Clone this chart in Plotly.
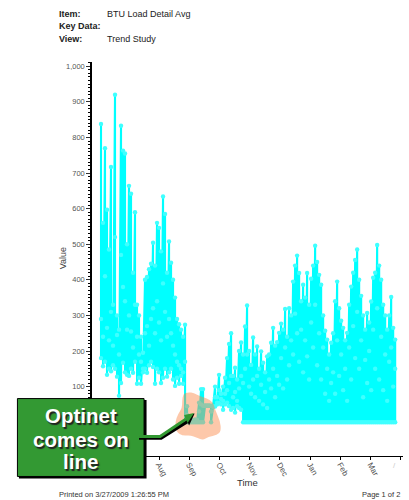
import plotly.graph_objects as go

# Tick labels of the time axis (June = 0, one unit per month)
month_ticks = [0, 1, 2, 3, 4, 5, 6, 7, 8, 9, 10]
month_labels = ["Jun", "Jul", "Aug", "Sep", "Oct", "Nov", "Dec", "Jan", "Feb", "Mar", ""]
value_ticks = [100, 200, 300, 400, 500, 600, 700, 800, 900, 1000]
value_labels = ["100", "200", "300", "400", "500", "600", "700", "800", "900", "1,000"]

# Upper, middle and lower reading for each sampling period
highs = [838, 560, 770, 597, 485, 717, 330, 920, 300, 260, 833, 763, 755, 500, 664, 642, 420, 590, 330, 300,
         240, 195, 400, 408, 430, 445, 504, 440, 560, 546, 480, 634, 585, 420, 508, 448, 400, 350, 290, 275,
         260, 240, 274, 45, 12, 10, 5, 8, 6, 55, 93, 93, 46, 46, 46, 46, 44, 100, 70, 133,
         80, 100, 125, 180, 220, 250, 130, 153, 120, 200, 224, 190, 269, 328, 200, 161, 238, 190, 213, 150,
         199, 167, 140, 185, 190, 223, 265, 215, 225, 251, 277, 260, 318, 240, 320, 300, 395, 440, 468, 419,
         340, 386, 350, 419, 330, 403, 440, 496, 450, 414, 386, 300, 257, 232, 190, 223, 250, 340, 395, 320,
         285, 265, 230, 251, 330, 381, 420, 456, 485, 400, 355, 300, 260, 307, 280, 339, 406, 420, 498, 440,
         400, 330, 300, 260, 300, 352, 265, 232]
mids = [290, 240, 410, 265, 230, 310, 215, 520, 245, 190, 470, 380, 340, 260, 300, 255, 210, 330, 240, 190,
        170, 150, 250, 270, 215, 290, 320, 250, 340, 280, 230, 390, 310, 240, 290, 250, 215, 190, 170, 160,
        150, 140, 170, 20, 5, 4, 2, 3, 2, 30, 50, 46, 46, 46, 46, 30, 44, 70, 55, 90,
        65, 60, 80, 90, 110, 130, 70, 85, 60, 95, 130, 110, 150, 190, 100, 80, 120, 70, 130, 60,
        105, 50, 85, 40, 120, 95, 150, 70, 130, 105, 180, 95, 210, 120, 160, 230, 190, 305, 250, 170,
        260, 140, 230, 185, 120, 280, 210, 330, 160, 250, 120, 210, 80, 150, 60, 110, 140, 80, 230, 130,
        190, 90, 150, 60, 210, 120, 270, 180, 310, 150, 230, 70, 175, 110, 200, 90, 260, 150, 320, 120,
        240, 90, 190, 60, 170, 210, 100, 150]
lows = [180, 157, 170, 133, 150, 143, 160, 150, 128, 74, 110, 167, 140, 133, 130, 150, 139, 170, 108, 125,
        108, 140, 150, 139, 160, 170, 155, 108, 150, 140, 110, 125, 150, 128, 140, 150, 120, 102, 125, 108,
        130, 108, 0, 0, 0, 0, 0, 0, 0, 0, 0, 0, 46, 46, 46, 0, 44, 44, 50, 54,
        50, 35, 50, 55, 45, 35, 40, 27, 45, 40, 35, 0, 0, 0, 0, 0, 0, 0, 0, 0,
        0, 0, 0, 0, 0, 0, 0, 0, 0, 0, 0, 0, 0, 0, 0, 0, 0, 0, 0, 0,
        0, 0, 0, 0, 0, 0, 0, 0, 0, 0, 0, 0, 0, 0, 0, 0, 0, 0, 0, 0,
        0, 0, 0, 0, 0, 0, 0, 0, 0, 0, 0, 0, 0, 0, 0, 0, 0, 0, 0, 0,
        0, 0, 0, 0, 0, 0, 0, 0]
FIRST_MONTH = 0.08
MONTHS_PER_SAMPLE = 0.0662

W, H = 409, 500
L, R, T, B = 92, 6.3, 61.5, 44
def fx(px):
    return (px - L) / (W - L - R)
def fy(py):
    return 1 - (py - T) / (H - T - B)
def pth(points, close=True):
    s = "M" + " L".join(f"{fx(a):.4f},{fy(b):.4f}" for a, b in points)
    return s + (" Z" if close else "")

xs, ys = [], []
for i, (h, m, l) in enumerate(zip(highs, mids, lows)):
    t = FIRST_MONTH + i * MONTHS_PER_SAMPLE
    xs += [t, t, t]
    ys += [h, m, l]

fig = go.Figure(go.Scatter(
    x=xs, y=ys, mode="lines+markers",
    line=dict(color="#00FFFF", width=2.1),
    marker=dict(color="#40FFFF", size=4.4, line=dict(width=0)),
    hoverinfo="skip", showlegend=False, cliponaxis=False,
))

# cloud highlight (one outline so that its transparency does not stack)
cloud = [(183, 394), (188, 392), (194, 393), (199, 396), (206, 398), (213, 402), (215, 410), (220, 421),
         (221, 431), (217, 435), (208, 437), (203, 440), (197, 438), (190, 435), (183, 436), (176, 432),
         (175, 422), (178, 414), (182, 408), (182, 401)]
def smooth(pts):
    n = len(pts)
    mid = lambda a, b: ((a[0] + b[0]) / 2, (a[1] + b[1]) / 2)
    s0 = mid(pts[-1], pts[0])
    s = f"M{fx(s0[0]):.4f},{fy(s0[1]):.4f}"
    for i in range(n):
        m = mid(pts[i], pts[(i + 1) % n])
        s += f" Q{fx(pts[i][0]):.4f},{fy(pts[i][1]):.4f} {fx(m[0]):.4f},{fy(m[1]):.4f}"
    return s + " Z"

shapes = [
    dict(type="path", xref="paper", yref="paper", path=smooth(cloud),
         fillcolor="rgba(250,130,61,0.44)", line=dict(width=0), layer="above"),
    dict(type="rect", xref="paper", yref="paper", x0=fx(19), x1=fx(146.5), y0=fy(478.5), y1=fy(400),
         fillcolor="#000000", line=dict(width=0), layer="above"),
    dict(type="rect", xref="paper", yref="paper", x0=fx(17.5), x1=fx(144), y0=fy(476.5), y1=fy(398.5),
         fillcolor="#339933", line=dict(color="#000000", width=1), layer="above"),
    dict(type="path", xref="paper", yref="paper", path=pth([(139, 438), (161, 438), (188, 421)], close=False),
         line=dict(color="#000000", width=3.5), layer="above"),
    dict(type="path", xref="paper", yref="paper", path=pth([(185, 416), (194.5, 413.5), (189, 425.5)]),
         fillcolor="#000000", line=dict(width=0), layer="above"),
    dict(type="path", xref="paper", yref="paper", path=pth([(139, 436.5), (160, 436.5), (186, 419)], close=False),
         line=dict(color="#339933", width=3), layer="above"),
    dict(type="path", xref="paper", yref="paper", path=pth([(184, 415), (194, 413), (187.5, 423)]),
         fillcolor="#339933", line=dict(width=0), layer="above"),
]

FONT = "Liberation Sans, Arial, sans-serif"
def txt(s, x, y, size=9, color="#222222", anchor="left", bold=False, angle=0, shadow=None):
    f = dict(family=FONT, size=size, color=color)
    if shadow:
        f["shadow"] = shadow
    return dict(text=f"<b>{s}</b>" if bold else s, xref="paper", yref="paper", x=fx(x), y=fy(y),
                xanchor=anchor, yanchor="middle", showarrow=False, font=f, textangle=angle)

shadow = "1.5px 1.5px 1px #222222"
annotations = [
    txt("Item:", 57, 13, bold=True), txt("BTU Load Detail Avg", 105, 13),
    txt("Key Data:", 57, 25.5, bold=True),
    txt("View:", 57, 38, bold=True), txt("Trend Study", 105, 38),
    txt("Value", 63, 258, size=9, color="#444444", anchor="center", angle=-90),
    txt("Time", 247, 483, size=9.5, color="#333333", anchor="center"),
    txt("/", 394, 466, size=8, color="#cccccc", anchor="center"),
    txt("Printed on 3/27/2009 1:26:55 PM", 57, 494.5, size=7.5, color="#333333"),
    txt("Page 1 of 2", 402, 494.5, size=7.5, color="#333333", anchor="right"),
    txt("Optinet", 81, 415, size=20.5, color="#ffffff", anchor="center", bold=True, shadow=shadow),
    txt("comes on", 81, 439, size=20.5, color="#ffffff", anchor="center", bold=True, shadow=shadow),
    txt("line", 81, 462, size=20.5, color="#ffffff", anchor="center", bold=True, shadow=shadow),
]

fig.update_layout(
    width=W, height=H, margin=dict(l=L, r=R, t=T, b=B, pad=0),
    paper_bgcolor="white", plot_bgcolor="white", showlegend=False,
    shapes=shapes, annotations=annotations,
    xaxis=dict(range=[-0.218, 10.07], tickmode="array", tickvals=month_ticks, ticktext=month_labels,
               tickangle=60, ticks="outside", ticklen=3, tickcolor="#000000", tickwidth=1,
               ticklabelstandoff=-3,
               showgrid=False, zeroline=False, showline=True, linecolor="#000000", linewidth=1,
               tickfont=dict(family=FONT, size=8, color="#555555")),
    yaxis=dict(range=[-95, 1012], tickmode="array", tickvals=value_ticks, ticktext=value_labels,
               ticks="outside", ticklen=4, tickcolor="#333333", tickwidth=1,
               showgrid=False, zeroline=False, showline=True, linecolor="#000000", linewidth=1.5,
               tickfont=dict(family=FONT, size=7.5, color="#555555"),
               minor=dict(dtick=10, ticks="outside", ticklen=2, tickcolor="#000000", tickwidth=1, showgrid=False)),
)

fig.write_html("out.html", config={"displayModeBar": False},
               post_script="document.body.style.margin='0';document.body.style.overflow='hidden';")
